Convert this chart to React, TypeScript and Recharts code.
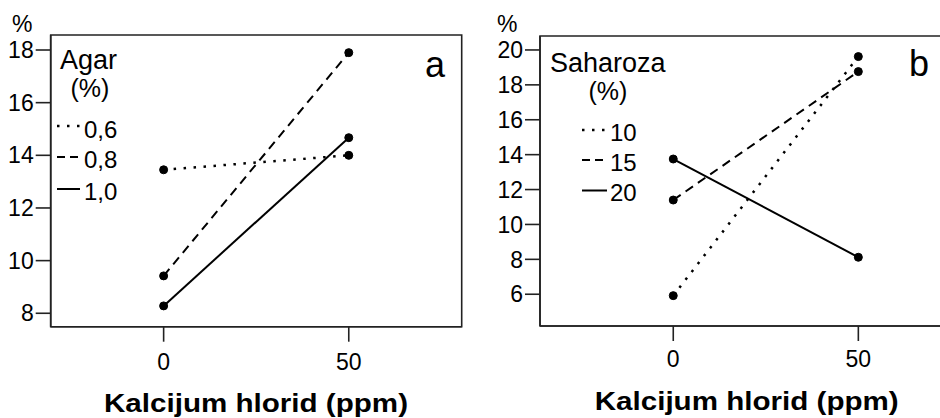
import React from 'react';
import { LineChart, Line, XAxis, YAxis, ReferenceArea } from 'recharts';

// ---- data ----
const calcium = [0, 50];
const xTicks = [0, 50];

const agarTitle = 'Agar';
const agarLevels = ['0,6', '0,8', '1,0'];
const agar06 = [13.45, 14.0];
const agar08 = [9.42, 17.9];
const agar10 = [8.28, 14.67];
const yTicksA = [8, 10, 12, 14, 16, 18];

const sahTitle = 'Saharoza';
const sahLevels = ['10', '15', '20'];
const sah10 = [5.92, 19.62];
const sah15 = [11.4, 18.76];
const sah20 = [13.75, 8.12];
const yTicksB = [6, 8, 10, 12, 14, 16, 18, 20];

const xTitle = 'Kalcijum hlorid (ppm)';
const unitLabel = '%';
const unitSub = '(%)';

// ---- styles ----
const FONT = '"Liberation Sans", Arial, sans-serif';
const AXIS = '#222';
const dashes = ['2.5 7.5', '9 6', undefined];
const widths = [2.5, 2, 2];
const legendDashes = ['2.5 7.5', '8 5', undefined];

const buildRows = (series: number[][]) =>
  calcium.map((c, i) => {
    const row: Record<string, number> = { x: c };
    series.forEach((s, k) => (row['s' + k] = s[i]));
    return row;
  });

type PanelProps = {
  left: number;
  width: number;
  margin: { top: number; right: number; bottom: number; left: number };
  yAxisWidth: number;
  xAxisHeight: number;
  xDomain: [number, number];
  yDomain: [number, number];
  yTicks: number[];
  series: number[][];
  levels: string[];
  legendTitle: string;
  legend: { titleX: number; titleY: number; subX: number; subY: number; lineX1: number; lineX2: number; textX: number; rowY: number[]; lineY: number[] };
  letter: string;
  letterX: number;
  letterY: number;
  unitX: number;
  titleX: number;
  titleY: number;
  xTickMargin: number;
};

const Panel = (p: PanelProps) => {
  const data = buildRows(p.series);
  return (
    <div style={{ position: 'absolute', left: p.left, top: 0 }}>
      <LineChart width={p.width} height={418} data={data} margin={p.margin}>
        <XAxis
          dataKey="x"
          type="number"
          domain={p.xDomain}
          ticks={xTicks}
          allowDataOverflow
          height={p.xAxisHeight}
          tickSize={15}
          tickMargin={p.xTickMargin}
          stroke={AXIS}
          strokeWidth={1.6}
          tick={{ fill: '#000', fontSize: 23, fontFamily: FONT }}
        />
        <YAxis
          type="number"
          domain={p.yDomain}
          ticks={p.yTicks}
          allowDataOverflow
          width={p.yAxisWidth}
          tickSize={15}
          tickMargin={2}
          stroke={AXIS}
          strokeWidth={1.6}
          tick={{ fill: '#000', fontSize: 23, fontFamily: FONT }}
        />
        <ReferenceArea
          x1={p.xDomain[0]}
          x2={p.xDomain[1]}
          y1={p.yDomain[0]}
          y2={p.yDomain[1]}
          fill="none"
          fillOpacity={0}
          stroke={AXIS}
          strokeWidth={1.6}
          ifOverflow="visible"
        />
        {p.series.map((_, k) => (
          <Line
            key={k}
            dataKey={'s' + k}
            stroke="#000"
            strokeWidth={widths[k]}
            strokeDasharray={dashes[k]}
            dot={{ r: 4, fill: '#000', stroke: '#000', strokeWidth: 1, strokeDasharray: '' }}
            isAnimationActive={false}
          />
        ))}
        <text x={p.unitX} y={32} fontSize={23} fontFamily={FONT} fill="#000">{unitLabel}</text>
        <text x={p.letterX} y={p.letterY} fontSize={36} fontFamily={FONT} fill="#000">{p.letter}</text>
        <text x={p.legend.titleX} y={p.legend.titleY} fontSize={27} fontFamily={FONT} fill="#000">{p.legendTitle}</text>
        <text x={p.legend.subX} y={p.legend.subY} fontSize={25} fontFamily={FONT} fill="#000" textAnchor="middle">{unitSub}</text>
        {p.levels.map((lv, k) => (
          <g key={lv}>
            <line
              x1={p.legend.lineX1}
              x2={p.legend.lineX2}
              y1={p.legend.lineY[k]}
              y2={p.legend.lineY[k]}
              stroke="#000"
              strokeWidth={widths[k]}
              strokeDasharray={legendDashes[k]}
            />
            <text x={p.legend.textX} y={p.legend.rowY[k]} fontSize={24} fontFamily={FONT} fill="#000">{lv}</text>
          </g>
        ))}
        <text
          x={p.titleX}
          y={p.titleY}
          fontSize={25}
          fontWeight="bold"
          fontFamily={FONT}
          fill="#000"
          textAnchor="middle"
          textLength={304}
          lengthAdjust="spacingAndGlyphs"
        >
          {xTitle}
        </text>
      </LineChart>
    </div>
  );
};

export default function App() {
  return (
    <div style={{ position: 'absolute', left: 0, top: 0, width: 940, height: 418, overflow: 'hidden', background: '#fff' }}>
      <Panel
        left={0}
        width={470}
        margin={{ top: 35, right: 8.3, bottom: 6.3, left: 0 }}
        yAxisWidth={50.7}
        xAxisHeight={85}
        xDomain={[-30.5, 80.5]}
        yDomain={[7.49, 18.57]}
        yTicks={yTicksA}
        series={[agar06, agar08, agar10]}
        levels={agarLevels}
        legendTitle={agarTitle}
        legend={{ titleX: 60, titleY: 68.5, subX: 90, subY: 97, lineX1: 57, lineX2: 80, textX: 84, rowY: [138, 168, 199.5], lineY: [126, 157, 189] }}
        letter="a"
        letterX={425}
        letterY={77}
        unitX={12}
        titleX={256}
        titleY={411.5}
        xTickMargin={12}
      />
      <Panel
        left={470}
        width={530}
        margin={{ top: 36, right: 8.4, bottom: 8, left: 0 }}
        yAxisWidth={70}
        xAxisHeight={84}
        xDomain={[-36, 86]}
        yDomain={[4.18, 20.8]}
        yTicks={yTicksB}
        series={[sah10, sah15, sah20]}
        levels={sahLevels}
        legendTitle={sahTitle}
        legend={{ titleX: 80, titleY: 71.5, subX: 138, subY: 100, lineX1: 112, lineX2: 137, textX: 140, rowY: [140.5, 170.5, 201], lineY: [130, 160, 190.5] }}
        letter="b"
        letterX={439}
        letterY={76}
        unitX={27}
        titleX={276.7}
        titleY={410}
        xTickMargin={10}
      />
    </div>
  );
}
